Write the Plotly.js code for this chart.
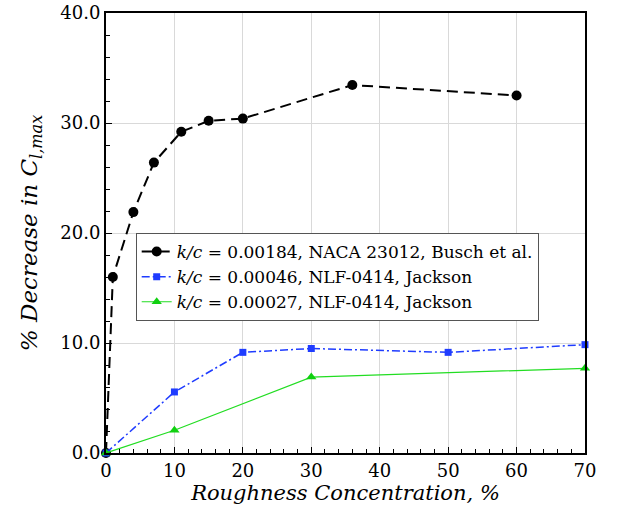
<!DOCTYPE html>
<html>
<head>
<meta charset="utf-8">
<script src="https://cdn.plot.ly/plotly-3.0.1.min.js"></script>
<style>html,body{margin:0;padding:0;background:#fff;}#chart{width:619px;height:510px;}</style>
</head>
<body>
<div id="chart"></div>
<script>
// Series 1: k/c = 0.00184, NACA 23012, Busch et al.
const buschX = [0, 1, 4, 7, 11, 15, 20, 36, 60];
const buschY = [0, 16.0, 21.9, 26.4, 29.2, 30.2, 30.4, 33.45, 32.5];
// Series 2: k/c = 0.00046, NLF-0414, Jackson
const jackson46X = [0, 10, 20, 30, 50, 70];
const jackson46Y = [0, 5.55, 9.15, 9.5, 9.15, 9.85];
// Series 3: k/c = 0.00027, NLF-0414, Jackson
const jackson27X = [0, 10, 30, 70];
const jackson27Y = [0, 2.07, 6.9, 7.7];
const seriesNames = [
  "<i>k/c</i> = 0.00184, NACA 23012, Busch et al.",
  "<i>k/c</i> = 0.00046, NLF-0414, Jackson",
  "<i>k/c</i> = 0.00027, NLF-0414, Jackson"
];
const xTickVals = [0, 10, 20, 30, 40, 50, 60, 70];
const yTickVals = [0, 10, 20, 30, 40];

const serif = "DejaVu Serif";

const traces = [
  {x: buschX, y: buschY, name: seriesNames[0], mode: "lines+markers", cliponaxis: false,
   line: {color: "black", width: 2, dash: "11px,6px"},
   marker: {symbol: "circle", size: 10, color: "black"}},
  {x: jackson46X, y: jackson46Y, name: seriesNames[1], mode: "lines+markers", cliponaxis: false,
   line: {color: "#1f3cff", width: 1.5, dash: "8px,3px,2px,3px"},
   marker: {symbol: "square", size: 7, color: "#1f3cff"}},
  {x: jackson27X, y: jackson27Y, name: seriesNames[2], mode: "lines+markers", cliponaxis: false,
   line: {color: "#22dd22", width: 1.2},
   marker: {symbol: "triangle-up", size: 9, color: "#10d010"}}
];

const layout = {
  width: 619, height: 510,
  margin: {l: 106, r: 34, t: 13, b: 57},
  paper_bgcolor: "white", plot_bgcolor: "white",
  font: {family: serif, color: "black", size: 17},
  showlegend: true,
  legend: {
    x: 0.062, y: 0.5, xanchor: "left", yanchor: "top",
    bgcolor: "white", bordercolor: "#555", borderwidth: 1,
    font: {family: serif, size: 17, color: "black"},
    tracegroupgap: 0
  },
  xaxis: {
    range: [0, 70], tickvals: xTickVals, ticktext: xTickVals.map(String),
    showline: true, linecolor: "black", linewidth: 2, mirror: true,
    showgrid: true, gridcolor: "#d9d9d9", gridwidth: 1, zeroline: false,
    ticks: "inside", ticklen: 6, tickcolor: "black", tickwidth: 1,
    minor: {dtick: 2, ticks: "inside", ticklen: 4, tickcolor: "black", tickwidth: 1, showgrid: false},
    tickfont: {family: serif, size: 18},
    title: {text: "<i>Roughness Concentration, %</i>", font: {family: serif, size: 21}, standoff: 2}
  },
  yaxis: {
    range: [0, 40], tickvals: yTickVals, ticktext: yTickVals.map(v => v.toFixed(1)),
    showline: true, linecolor: "black", linewidth: 2, mirror: true,
    showgrid: true, gridcolor: "#d9d9d9", gridwidth: 1, zeroline: false,
    ticks: "inside", ticklen: 6, tickcolor: "black", tickwidth: 1,
    minor: {dtick: 2, ticks: "inside", ticklen: 4, tickcolor: "black", tickwidth: 1, showgrid: false},
    tickfont: {family: serif, size: 18},
    title: {text: "<i>% Decrease in C<sub>l,max</sub></i>", font: {family: serif, size: 23}, standoff: 16}
  }
};

Plotly.newPlot("chart", traces, layout, {displayModeBar: false, staticPlot: true});
</script>
</body>
</html>
